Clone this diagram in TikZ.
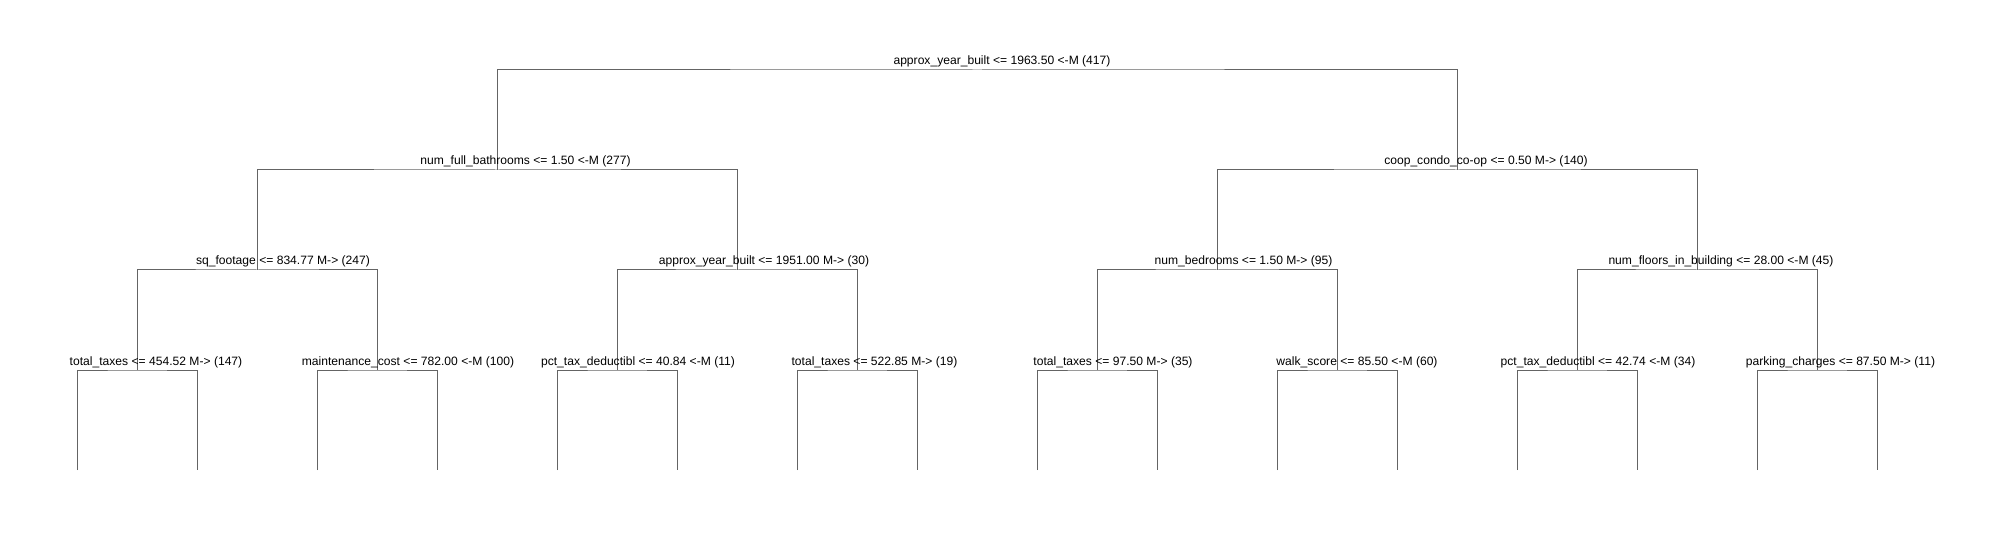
\documentclass[tikz,border=0pt]{standalone}
\usepackage{fontspec}
\setmainfont{Liberation Sans}
\definecolor{treeline}{RGB}{100,100,100}
\tikzset{
  branch/.style={draw=treeline, line width=1pt},
  splitlabel/.style={anchor=base, inner sep=0pt, text=black, font=\fontsize{12.1}{14}\selectfont}
}
\begin{document}
\begin{tikzpicture}[x=1pt,y=-1pt]
\useasboundingbox (0,0) rectangle (2006,540);
\fill[white] (0,0) rectangle (2006,540);
% tree nodes (split points)
\coordinate (R) at (977.3,70);
\coordinate (A) at (497.3,170);
\coordinate (B) at (1457.3,170);
\coordinate (A1) at (257.3,270);
\coordinate (A2) at (737.3,270);
\coordinate (B1) at (1217.3,270);
\coordinate (B2) at (1697.3,270);
\foreach \m in {0,...,7} \coordinate (d\m) at ({137.3+240*\m},370);
\foreach \k in {0,...,15} \coordinate (leaf\k) at ({77.3+120*\k},470);
% branches
\draw[branch] (A) |- (R) -| (B);
\draw[branch] (A1) |- (A) -| (A2);
\draw[branch] (B1) |- (B) -| (B2);
\draw[branch] (d0) |- (A1) -| (d1);
\draw[branch] (d2) |- (A2) -| (d3);
\draw[branch] (d4) |- (B1) -| (d5);
\draw[branch] (d6) |- (B2) -| (d7);
\foreach \m [evaluate=\m as \a using int(2*\m), evaluate=\m as \b using int(2*\m+1)] in {0,...,7}
  \draw[branch] (leaf\a) |- (d\m) -| (leaf\b);
% labels
\node[splitlabel] (tR) at (1002,65) {approx\_year\_built <= 1963.50 <-M (417)};
\node[splitlabel] (tA) at (525.5,165) {num\_full\_bathrooms <= 1.50 <-M (277)};
\node[splitlabel] (tB) at (1486,165) {coop\_condo\_co-op <= 0.50 M-> (140)};
\node[splitlabel] (tA1) at (283,265) {sq\_footage <= 834.77 M-> (247)};
\node[splitlabel] (tA2) at (764,265) {approx\_year\_built <= 1951.00 M-> (30)};
\node[splitlabel] (tB1) at (1243.5,265) {num\_bedrooms <= 1.50 M-> (95)};
\node[splitlabel] (tB2) at (1721,265) {num\_floors\_in\_building <= 28.00 <-M (45)};
\node[splitlabel] (t0) at (156,365) {total\_taxes <= 454.52 M-> (147)};
\node[splitlabel] (t1) at (408,365) {maintenance\_cost <= 782.00 <-M (100)};
\node[splitlabel] (t2) at (638,365) {pct\_tax\_deductibl <= 40.84 <-M (11)};
\node[splitlabel] (t3) at (874.5,365) {total\_taxes <= 522.85 M-> (19)};
\node[splitlabel] (t4) at (1113,365) {total\_taxes <= 97.50 M-> (35)};
\node[splitlabel] (t5) at (1357,365) {walk\_score <= 85.50 <-M (60)};
\node[splitlabel] (t6) at (1598,365) {pct\_tax\_deductibl <= 42.74 <-M (34)};
\node[splitlabel] (t7) at (1840.5,365) {parking\_charges <= 87.50 M-> (11)};
\end{tikzpicture}
\end{document}
